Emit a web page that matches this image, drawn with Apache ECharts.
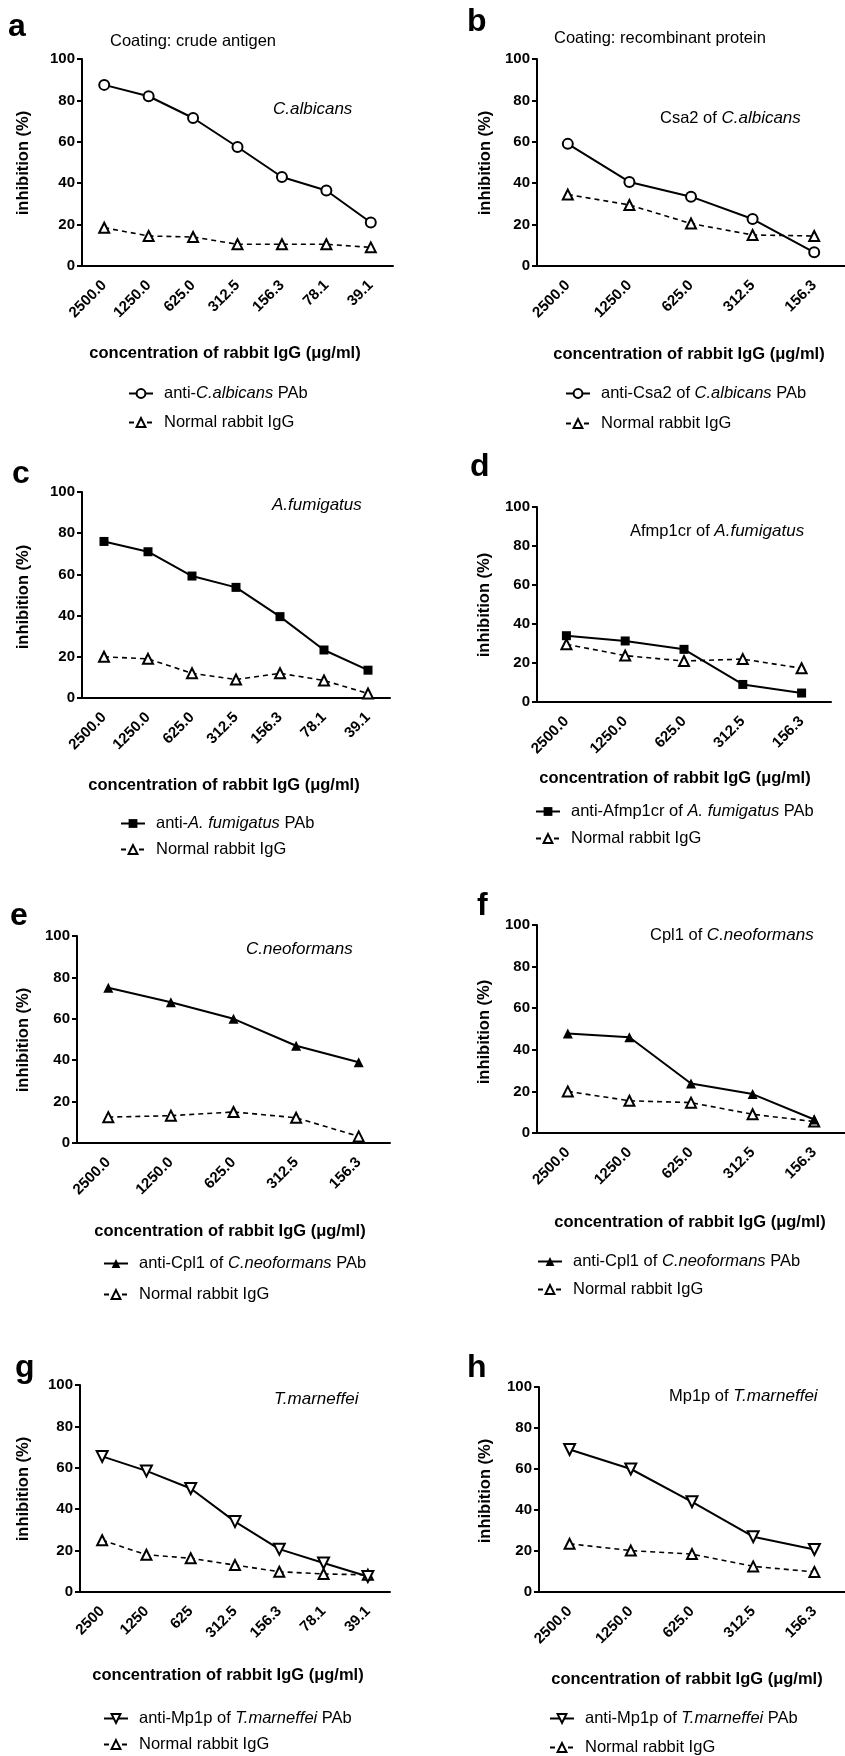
<!DOCTYPE html>
<html>
<head>
<meta charset="utf-8">
<script src="https://cdn.jsdelivr.net/npm/echarts@6/dist/echarts.min.js"></script>
<style>
  html, body { margin: 0; padding: 0; background: #fff; }
  #main { width: 845px; height: 1756px; }
</style>
</head>
<body>
<div id="main"></div>
<script>
// concentration of rabbit IgG (ug/ml) - category labels
const concLong = ['2500.0', '1250.0', '625.0', '312.5', '156.3', '78.1', '39.1'];
const concShort = ['2500.0', '1250.0', '625.0', '312.5', '156.3'];
const concMarn = ['2500', '1250', '625', '312.5', '156.3', '78.1', '39.1'];

// inhibition (%)
const albicansPAb = [87.5, 82, 71.5, 57.5, 43, 36.5, 21];
const albicansNormal = [18.5, 14.5, 14, 10.5, 10.5, 10.5, 9];
const csa2PAb = [59, 40.6, 33.5, 22.7, 6.6];
const csa2Normal = [34.5, 29.5, 20.5, 15, 14.5];
const fumigatusPAb = [76, 71, 59.2, 53.7, 39.5, 23.3, 13.5];
const fumigatusNormal = [20, 19, 12, 9, 12, 8.5, 2.2];
const afmp1crPAb = [34, 31.3, 27, 9, 4.6];
const afmp1crNormal = [29.6, 23.8, 21, 22, 17.3];
const neoformansPAb = [75, 68, 60, 47, 39];
const neoformansNormal = [12.5, 13.2, 15, 12.2, 3.2];
const cpl1PAb = [47.8, 46, 23.8, 18.7, 6.5];
const cpl1Normal = [20, 15.5, 14.6, 9, 5.5];
const marneffeiPAb = [65.5, 58.5, 50, 34, 20.7, 14, 7.5];
const marneffeiNormal = [25, 18, 16.3, 13, 9.8, 8.7, 8.3];
const mp1pPAb = [69.5, 60, 44, 27, 20.7];
const mp1pNormal = [23.5, 20.2, 18.5, 12.5, 9.8];

const yMin = 0, yMax = 100, yStep = 20;
const normalName = 'Normal rabbit IgG';

const FONT = '"Liberation Sans", Arial, Helvetica, sans-serif';

// label pieces: odd index = italic
const panels = [
  {
    letter: 'a', cats: concLong, pab: albicansPAb, normal: albicansNormal,
    symbol: 'emptyCircle', symbolSize: 10, rotate: 0,
    pabLabel: ['anti-', 'C.albicans', ' PAb'],
    title: 'Coating: crude antigen', note: ['', 'C.albicans'],
    grid: { left: 82, top: 59, width: 311, height: 207 },
    letterPos: [8, 27], titlePos: [110, 41], notePos: [273, 109],
    yTitle: [23, 163], xTitle: [225, 353], legend: [128, 393, 422]
  },
  {
    letter: 'b', cats: concShort, pab: csa2PAb, normal: csa2Normal,
    symbol: 'emptyCircle', symbolSize: 10, rotate: 0,
    pabLabel: ['anti-Csa2 of ', 'C.albicans', ' PAb'],
    title: 'Coating: recombinant protein', note: ['Csa2 of ', 'C.albicans'],
    grid: { left: 537, top: 59, width: 311, height: 207 },
    letterPos: [467, 22], titlePos: [554, 38], notePos: [660, 118],
    yTitle: [485, 163], xTitle: [689, 354], legend: [565, 393, 423]
  },
  {
    letter: 'c', cats: concLong, pab: fumigatusPAb, normal: fumigatusNormal,
    symbol: 'rect', symbolSize: 9, rotate: 0,
    pabLabel: ['anti-', 'A. fumigatus', ' PAb'],
    note: ['', 'A.fumigatus'],
    grid: { left: 82, top: 492, width: 308, height: 206 },
    letterPos: [12, 474], notePos: [272, 505],
    yTitle: [23, 597], xTitle: [224, 785], legend: [120, 823, 849]
  },
  {
    letter: 'd', cats: concShort, pab: afmp1crPAb, normal: afmp1crNormal,
    symbol: 'rect', symbolSize: 9, rotate: 0,
    pabLabel: ['anti-Afmp1cr of ', 'A. fumigatus', ' PAb'],
    note: ['Afmp1cr of ', 'A.fumigatus'],
    grid: { left: 537, top: 507, width: 294, height: 195 },
    letterPos: [470, 467], notePos: [630, 531],
    yTitle: [484, 605], xTitle: [675, 778], legend: [535, 811, 838]
  },
  {
    letter: 'e', cats: concShort, pab: neoformansPAb, normal: neoformansNormal,
    symbol: 'triangle', symbolSize: 10, rotate: 0,
    pabLabel: ['anti-Cpl1 of ', 'C.neoformans', ' PAb'],
    note: ['', 'C.neoformans'],
    grid: { left: 77, top: 936, width: 313, height: 207 },
    letterPos: [10, 916], notePos: [246, 949],
    yTitle: [23, 1040], xTitle: [230, 1231], legend: [103, 1263, 1294]
  },
  {
    letter: 'f', cats: concShort, pab: cpl1PAb, normal: cpl1Normal,
    symbol: 'triangle', symbolSize: 10, rotate: 0,
    pabLabel: ['anti-Cpl1 of ', 'C.neoformans', ' PAb'],
    note: ['Cpl1 of ', 'C.neoformans'],
    grid: { left: 537, top: 925, width: 314, height: 208 },
    letterPos: [477, 906], notePos: [650, 935],
    yTitle: [484, 1032], xTitle: [690, 1222], legend: [537, 1261, 1289]
  },
  {
    letter: 'g', cats: concMarn, pab: marneffeiPAb, normal: marneffeiNormal,
    symbol: 'emptyTriangle', symbolSize: 11, rotate: 180,
    pabLabel: ['anti-Mp1p of ', 'T.marneffei', ' PAb'],
    note: ['', 'T.marneffei'],
    grid: { left: 80, top: 1385, width: 310, height: 207 },
    letterPos: [15, 1368], notePos: [274, 1399],
    yTitle: [23, 1489], xTitle: [228, 1675], legend: [103, 1718, 1744]
  },
  {
    letter: 'h', cats: concShort, pab: mp1pPAb, normal: mp1pNormal,
    symbol: 'emptyTriangle', symbolSize: 11, rotate: 180,
    pabLabel: ['anti-Mp1p of ', 'T.marneffei', ' PAb'],
    note: ['Mp1p of ', 'T.marneffei'],
    grid: { left: 539, top: 1387, width: 309, height: 205 },
    letterPos: [467, 1368], notePos: [669, 1396],
    yTitle: [485, 1491], xTitle: [687, 1679], legend: [549, 1718, 1747]
  }
];

const legendRich = {
  n: { fontFamily: FONT, fontSize: 16.5, color: '#000', lineHeight: 16 },
  i: { fontFamily: FONT, fontSize: 16.5, fontStyle: 'italic', color: '#000', lineHeight: 16 }
};
const noteRich = {
  n: { fontFamily: FONT, fontSize: 16.5, color: '#000', lineHeight: 17 },
  i: { fontFamily: FONT, fontSize: 17, fontStyle: 'italic', color: '#000', lineHeight: 17 }
};

function toRich(parts) {
  return parts.map((p, k) => p ? `{${k % 2 ? 'i' : 'n'}|${p}}` : '').join('');
}

const chart = echarts.init(document.getElementById('main'), null, { renderer: 'canvas' });

const grid = [], xAxis = [], yAxis = [], series = [], legend = [], graphic = [];

panels.forEach((p, i) => {
  const pabName = p.pabLabel.join('');
  grid.push(Object.assign({ containLabel: false }, p.grid));

  xAxis.push({
    type: 'category',
    gridIndex: i,
    data: p.cats,
    boundaryGap: true,
    axisLine: { lineStyle: { color: '#000', width: 2 } },
    axisTick: { alignWithLabel: true, length: 5, lineStyle: { color: '#000', width: 2 } },
    axisLabel: {
      interval: 0, rotate: 45, margin: 17, color: '#000',
      fontFamily: FONT, fontWeight: 'bold', fontSize: 15
    },
    splitLine: { show: false }
  });

  yAxis.push({
    type: 'value',
    gridIndex: i,
    min: yMin, max: yMax, interval: yStep,
    axisLine: { show: true, lineStyle: { color: '#000', width: 2 } },
    axisTick: { show: true, length: 5, lineStyle: { color: '#000', width: 2 } },
    axisLabel: { margin: 7, color: '#000', fontFamily: FONT, fontWeight: 'bold', fontSize: 15 },
    splitLine: { show: false }
  });

  series.push({
    name: normalName,
    type: 'line',
    xAxisIndex: i, yAxisIndex: i,
    data: p.normal,
    symbol: 'emptyTriangle', symbolSize: 10,
    itemStyle: { color: '#000' },
    lineStyle: { color: '#000', width: 1.6, type: [5, 4] },
    emphasis: { disabled: true },
    z: 2
  });
  series.push({
    name: pabName,
    type: 'line',
    xAxisIndex: i, yAxisIndex: i,
    data: p.pab,
    symbol: p.symbol, symbolSize: p.symbolSize, symbolRotate: p.rotate,
    itemStyle: { color: '#000' },
    lineStyle: { color: '#000', width: 2 },
    emphasis: { disabled: true },
    z: 3
  });

  const legendBase = {
    orient: 'vertical', left: p.legend[0], padding: 0,
    itemWidth: 24, itemHeight: 11, selectedMode: false,
    textStyle: { color: '#000', fontFamily: FONT, fontSize: 16.5, lineHeight: 16, padding: [0, 0, 0, 6], rich: legendRich }
  };
  legend.push(Object.assign({}, legendBase, {
    top: p.legend[1] - 8, data: [pabName],
    formatter: () => toRich(p.pabLabel)
  }));
  legend.push(Object.assign({}, legendBase, {
    top: p.legend[2] - 8, data: [normalName],
    formatter: () => toRich([normalName])
  }));

  graphic.push({
    type: 'text', x: p.letterPos[0], y: p.letterPos[1],
    style: { text: p.letter, font: `bold 32px ${FONT}`, fill: '#000', textAlign: 'left', textVerticalAlign: 'middle' }
  });
  if (p.title) {
    graphic.push({
      type: 'text', x: p.titlePos[0], y: p.titlePos[1],
      style: { text: p.title, font: `16.5px ${FONT}`, fill: '#000', textAlign: 'left', textVerticalAlign: 'middle' }
    });
  }
  graphic.push({
    type: 'text', x: p.notePos[0], y: p.notePos[1],
    style: { text: toRich(p.note), rich: noteRich, textAlign: 'left', textVerticalAlign: 'middle' }
  });
  graphic.push({
    type: 'text', x: p.yTitle[0], y: p.yTitle[1], rotation: Math.PI / 2,
    style: { text: 'inhibition (%)', font: `bold 16.5px ${FONT}`, fill: '#000', textAlign: 'center', textVerticalAlign: 'middle' }
  });
  graphic.push({
    type: 'text', x: p.xTitle[0], y: p.xTitle[1],
    style: { text: 'concentration of rabbit IgG (\u03bcg/ml)', font: `bold 16.5px ${FONT}`, fill: '#000', textAlign: 'center', textVerticalAlign: 'middle' }
  });
});

chart.setOption({
  backgroundColor: '#fff',
  animation: false,
  grid, xAxis, yAxis, series, legend, graphic
});
</script>
</body>
</html>
